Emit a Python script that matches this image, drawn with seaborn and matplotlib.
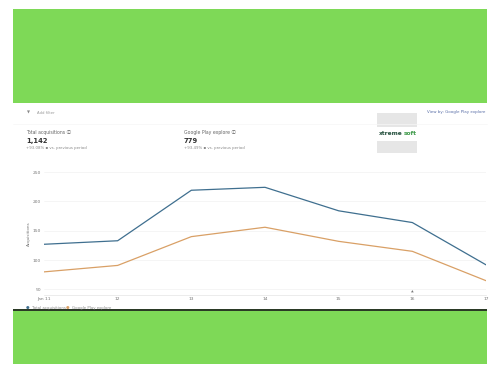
import matplotlib
matplotlib.use("Agg")
import matplotlib.pyplot as plt
import pandas as pd
import seaborn as sns
from matplotlib.patches import Rectangle

W, H = 500, 374

days = [11, 12, 13, 14, 15, 16, 17]
day_labels = ["Jan 11", "12", "13", "14", "15", "16", "17"]
total_acq = [127, 133, 219, 224, 184, 164, 92]
play_explore = [80, 91, 140, 156, 132, 115, 65]
y_ticks = [50, 100, 150, 200, 250]

df = pd.DataFrame({
    "day": days * 2,
    "acq": total_acq + play_explore,
    "series": ["Total acquisitions"] * 7 + ["Google Play explore"] * 7,
})

sns.set_style("white")
plt.rcParams["font.family"] = ["DejaVu Sans", "Noto Sans CJK SC"]
GREEN = "#7ed957"
BLUE = "#3f6f8f"
ORANGE = "#d9a066"
GREY = "#777777"


# pixel box -> figure rectangle
def box(x0, y0, x1, y1, **kw):
    fig.add_artist(Rectangle((x0 / W, 1 - y1 / H), (x1 - x0) / W, (y1 - y0) / H,
                             transform=fig.transFigure, lw=0, **kw))


def label(x, y, s, size=3.2, color=GREY, **kw):
    fig.text(x / W, 1 - y / H, s, fontsize=size, color=color, va="center", **kw)


fig = plt.figure(figsize=(W / 100, H / 100), dpi=100)
ax = fig.add_axes([44 / W, 1 - 294.6 / H, (486 - 44) / W, (294.6 - 165) / H])

sns.lineplot(data=df, x="day", y="acq", hue="series", palette=[BLUE, ORANGE],
             linewidth=0.9, legend=False, ax=ax)

ax.set_xlim(11, 17)
ax.set_ylim(41.3, 262)
ax.set_xticks(days)
ax.set_xticklabels(day_labels)
ax.set_yticks(y_ticks)
ax.tick_params(labelsize=3.2, labelcolor=GREY, length=0, pad=2)
ax.grid(axis="y", color="#f2f2f2", lw=0.5)
ax.set_xlabel("")
ax.set_ylabel("Acquisitions", fontsize=3, color=GREY)
ax.yaxis.set_label_coords(-13 / 442, 0.47)
sns.despine(ax=ax, left=True)
ax.spines["bottom"].set_color("#e4e4e4")
ax.spines["bottom"].set_linewidth(0.5)

# green bands
box(13, 9, 487, 103, color=GREEN)
box(13, 311, 487, 364, color=GREEN)
box(13, 309, 487, 311, color="#2b3a26")

# filter row
label(37, 112.5, "Add filter", size=2.7, color="#999999")
label(27, 112.5, "▼", size=2.8, color="#888888")
label(485, 112.5, "View by: Google Play explore", size=2.9, color="#5a6fa8", ha="right")
fig.add_artist(plt.Line2D([13 / W, 487 / W], [1 - 124 / H] * 2, color="#f6f6f6", lw=0.5))

# summary cards
label(26, 132.5, "Total acquisitions ⓘ", size=3.3, color="#666666")
label(26, 140.5, "1,142", size=4.9, color="#333333", fontweight="bold")
label(26, 148, "+93.08% ▪ vs. previous period", size=2.8, color="#888888")
label(184, 132.5, "Google Play explore ⓘ", size=3.3, color="#666666")
label(184, 140.5, "779", size=4.9, color="#333333", fontweight="bold")
label(184, 148, "+93.49% ▪ vs. previous period", size=2.8, color="#888888")

# logo
box(377, 113, 417, 127, color="#e6e6e6")
box(377, 141, 417, 153, color="#e6e6e6")
label(403, 133.5, "xtreme", size=4.2, color="#234f3c", fontweight="bold", ha="right")
label(403.3, 133.5, "soft", size=4.2, color="#3f9a4a", fontweight="bold")

# legend, half cut off by the bottom band
label(26, 308.3, "●", size=3, color=BLUE)
label(32, 308, "Total acquisitions", size=2.8, color="#888888")
label(66, 308.3, "●", size=3, color=ORANGE)
label(72, 308, "Google Play explore", size=2.8, color="#888888")
label(411, 292, "▲", size=2.5, color="#777777")

fig.savefig("out.png", dpi=100)
